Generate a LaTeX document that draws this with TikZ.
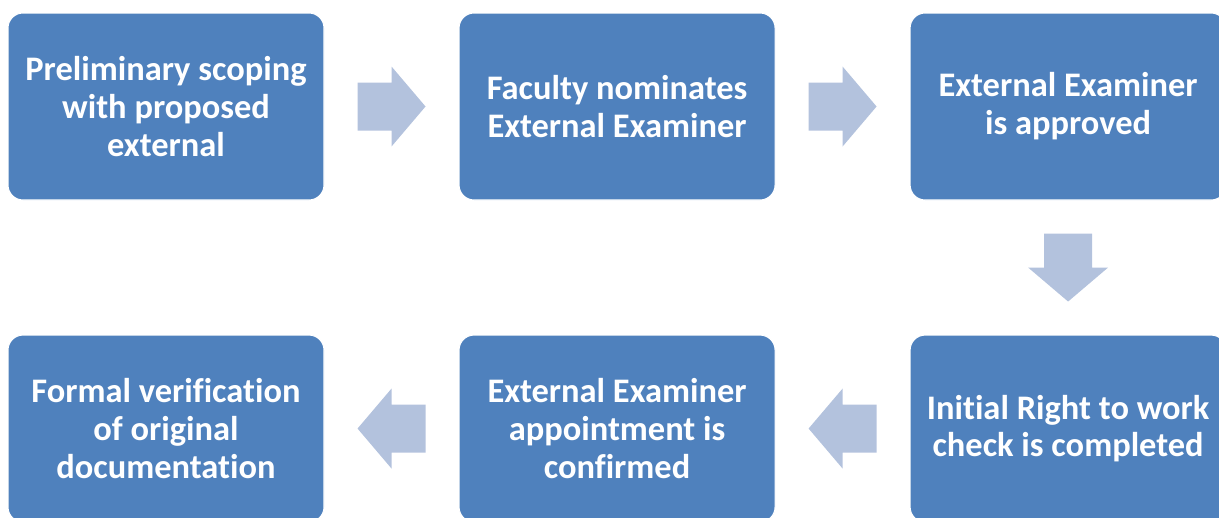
\documentclass[tikz,border=0pt]{standalone}
\usepackage{fontspec}
\setmainfont{Carlito}[Ligatures=NoCommon]
\usetikzlibrary{positioning,calc}
\definecolor{boxblue}{HTML}{4F81BD}
\definecolor{arrowblue}{HTML}{B3C2DD}
\tikzset{
  stagebox/.style={rectangle, rounded corners=0.3cm, fill=boxblue, draw=white, line width=0.6pt,
    minimum width=6.32cm, minimum height=3.74cm, text=white, align=center,
    font=\fontsize{19.6}{21.5}\selectfont\bfseries},
  pics/blockarrow/.style={code={
    \fill[arrowblue] (-0.68,-0.48) -- (0,-0.48) -- (0,-0.8) -- (0.68,0) -- (0,0.8) -- (0,0.48) -- (-0.68,0.48) -- cycle;
  }}
}
\begin{document}
\begin{tikzpicture}
  \useasboundingbox (0,0) rectangle (24.38,-10.36);
  \node[stagebox] (scope) at (3.32,-2.13) {Preliminary scoping\\with proposed\\external};
  \node[stagebox, right=2.68cm of scope] (nominate) {Faculty nominates\\External Examiner};
  \node[stagebox, right=2.68cm of nominate] (approve) {External Examiner\\is approved};
  \node[stagebox, below=2.68cm of approve] (rtw) {Initial Right to work\\check is completed};
  \node[stagebox, left=2.68cm of rtw] (confirm) {External Examiner\\appointment is\\confirmed};
  \node[stagebox, left=2.68cm of confirm] (verify) {Formal verification\\of original\\documentation};

  \path ($(scope.east)!0.5!(nominate.west)$) pic {blockarrow};
  \path ($(nominate.east)!0.5!(approve.west)$) pic {blockarrow};
  \path ($(approve.south)!0.5!(rtw.north)$) pic[rotate=-90] {blockarrow};
  \path ($(rtw.west)!0.5!(confirm.east)$) pic[rotate=180] {blockarrow};
  \path ($(confirm.west)!0.5!(verify.east)$) pic[rotate=180] {blockarrow};
\end{tikzpicture}
\end{document}
